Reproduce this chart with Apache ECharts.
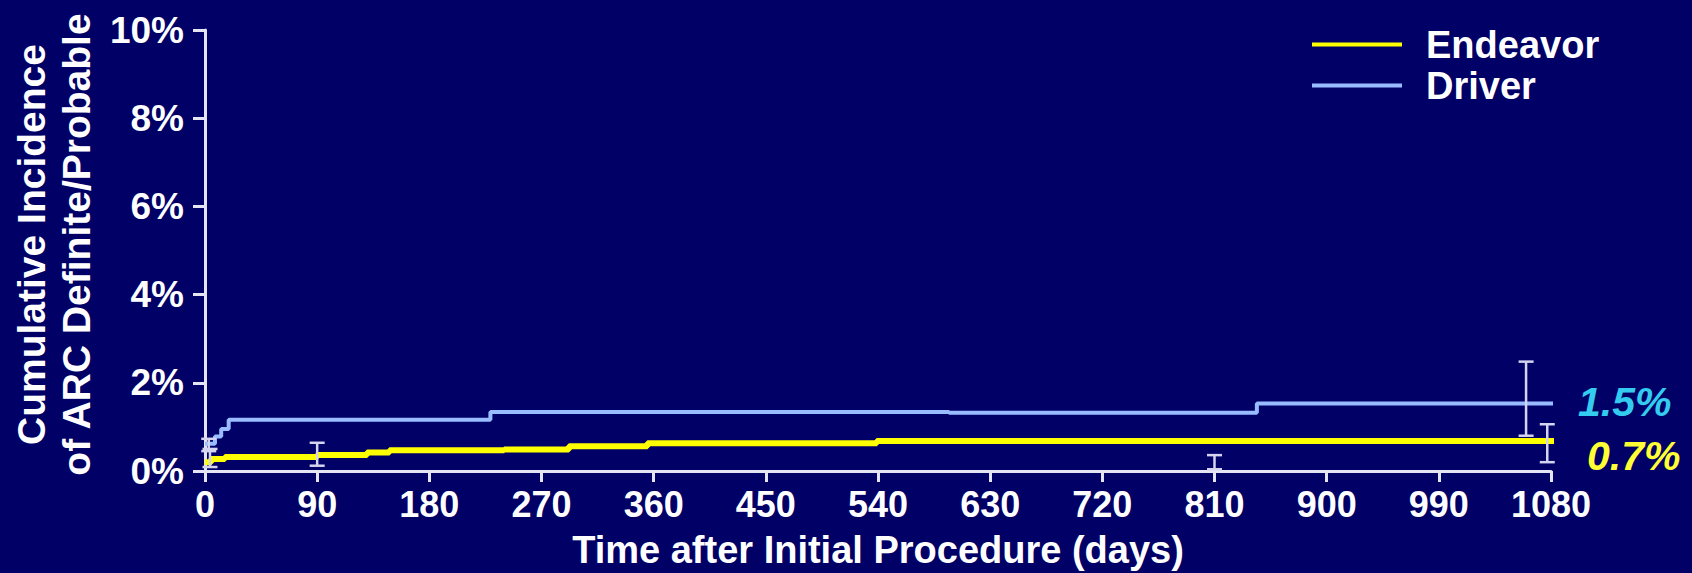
<!DOCTYPE html>
<html><head><meta charset="utf-8">
<script src="https://cdn.jsdelivr.net/npm/echarts@6/dist/echarts.min.js"></script>
<style>html,body{margin:0;padding:0;background:#000066;}#c{width:1692px;height:573px;}</style>
</head><body><div id="c"></div>
<script>
const seriesNames = ['Endeavor', 'Driver'];
// [day, cumulative incidence %]
const endeavor = [[0,0.2],[5,0.27],[16,0.32],[90,0.36],[130,0.42],[148,0.47],[240,0.49],[292,0.56],[355,0.63],[539,0.68],[1086,0.68]];
const driver = [[0,0.62],[8,0.78],[13,0.95],[19,1.16],[229,1.34],[597,1.32],[844,1.53],[1083,1.53]];
// [day, low %, high %]
const errorBars = [[3,0.45,0.73],[4,0.09,0.5],[90,0.12,0.64],[810,0.04,0.36],[1060,0.80,2.48],[1077,0.20,1.06]];
const xTitle = 'Time after Initial Procedure (days)';
const yTitle = 'Cumulative Incidence\nof ARC Definite/Probable';

const FONT = "'Liberation Sans', Arial, Helvetica, sans-serif";
const AXIS = '#e4e4f4';
const chart = echarts.init(document.getElementById('c'), null, {renderer: 'svg'});
chart.setOption({
  backgroundColor: '#000066',
  animation: false,
  grid: {left: 205, right: 141, top: 30, bottom: 102, containLabel: false, outerBoundsMode: 'none'},
  legend: {
    orient: 'vertical', left: 1307, top: 19, itemGap: 0,
    itemWidth: 90, itemHeight: 4, icon: 'rect',
    data: seriesNames,
    textStyle: {color: '#ffffff', fontFamily: FONT, fontWeight: 'bold', fontSize: 38, lineHeight: 41, padding: [0,0,0,19]}
  },
  xAxis: {
    type: 'value', min: 0, max: 1080, interval: 90,
    name: xTitle, nameLocation: 'middle', nameGap: 60,
    nameTextStyle: {color: '#ffffff', fontFamily: FONT, fontWeight: 'bold', fontSize: 38, lineHeight: 38},
    axisLine: {show: true, lineStyle: {color: AXIS, width: 3}},
    axisTick: {show: true, inside: false, length: 11, lineStyle: {color: AXIS, width: 3}},
    axisLabel: {color: '#ffffff', fontFamily: FONT, fontWeight: 'bold', fontSize: 36, margin: 15, formatter: v => String(v)},
    splitLine: {show: false}
  },
  yAxis: {
    type: 'value', min: 0, max: 10, interval: 2,
    name: yTitle, nameLocation: 'middle', nameGap: 106, nameRotate: 90,
    nameTextStyle: {color: '#ffffff', fontFamily: FONT, fontWeight: 'bold', fontSize: 39, lineHeight: 45, align: 'center', padding: [0,0,0,12]},
    axisLine: {show: true, lineStyle: {color: AXIS, width: 3}},
    axisTick: {show: true, inside: false, length: 12, lineStyle: {color: AXIS, width: 3}},
    axisLabel: {color: '#ffffff', fontFamily: FONT, fontWeight: 'bold', fontSize: 37, margin: 21, formatter: v => v + '%'},
    splitLine: {show: false}
  },
  series: [
    {
      name: seriesNames[0], type: 'line', step: 'end', data: endeavor, showSymbol: false, symbol: 'none',
      itemStyle: {color: '#ffff00'},
      lineStyle: {color: '#ffff00', width: 6},
      z: 3,
      endLabel: {show: true, distance: 33, offset: [0, 15], formatter: p => p.value[1].toFixed(1) + '%',
        color: '#ffff33', fontFamily: FONT, fontWeight: 'bold', fontStyle: 'italic', fontSize: 41}
    },
    {
      name: seriesNames[1], type: 'line', step: 'end', data: driver, showSymbol: false, symbol: 'none',
      itemStyle: {color: '#99bbff'},
      lineStyle: {color: '#99bbff', width: 4},
      z: 2,
      endLabel: {show: true, distance: 25, offset: [0, -2], formatter: p => p.value[1].toFixed(1) + '%',
        color: '#33ccee', fontFamily: FONT, fontWeight: 'bold', fontStyle: 'italic', fontSize: 41}
    },
    {
      type: 'custom', name: 'errorbars', data: errorBars, z: 5,
      renderItem: function (params, api) {
        const x = api.value(0);
        const lo = api.coord([x, api.value(1)]);
        const hi = api.coord([x, api.value(2)]);
        const hw = 7.5;
        const st = {stroke: '#d4d4f0', lineWidth: 2.5};
        return {type: 'group', children: [
          {type: 'line', shape: {x1: lo[0], y1: lo[1], x2: hi[0], y2: hi[1]}, style: st},
          {type: 'line', shape: {x1: lo[0]-hw, y1: lo[1], x2: lo[0]+hw, y2: lo[1]}, style: st},
          {type: 'line', shape: {x1: hi[0]-hw, y1: hi[1], x2: hi[0]+hw, y2: hi[1]}, style: st}
        ]};
      }
    }
  ]
});
</script></body></html>
